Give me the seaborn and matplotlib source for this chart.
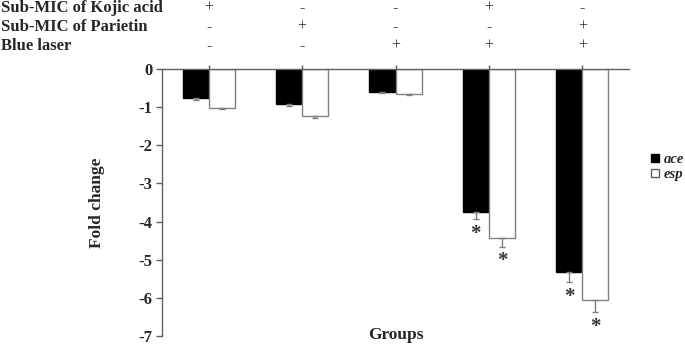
import matplotlib
matplotlib.use('Agg')
import matplotlib.pyplot as plt
import matplotlib.transforms as mtransforms
from matplotlib.lines import Line2D
import seaborn as sns
import pandas as pd
import numpy as np

groups = ['G1', 'G2', 'G3', 'G4', 'G5']
genes = ['ace', 'esp']
ace_vals = [-0.77, -0.92, -0.59, -3.74, -5.32]
esp_vals = [-1.02, -1.22, -0.66, -4.44, -6.06]
ace_err = [0.04, 0.04, 0.03, 0.20, 0.27]
esp_err = [0.04, 0.06, 0.03, 0.22, 0.31]
ace_sig = [False, False, False, True, True]
esp_sig = [False, False, False, True, True]
row_names = ['Sub-MIC of Kojic acid', 'Sub-MIC of Parietin', 'Blue laser']
row_signs = [['+', '-', '-', '+', '-'],
             ['-', '+', '-', '-', '+'],
             ['-', '-', '+', '+', '+']]

sns.set_style('white')
plt.rcParams['font.family'] = ['Liberation Serif', 'DejaVu Serif']
plt.rcParams['font.weight'] = 'bold'

df = pd.DataFrame({
    'group': groups * 2,
    'gene': ['ace'] * 5 + ['esp'] * 5,
    'value': ace_vals + esp_vals,
})

fig = plt.figure(figsize=(6.85, 3.48), dpi=100)
ax = fig.add_axes([162 / 685, 1 - 336 / 348, (629 - 162) / 685, (336 - 69) / 348])

sns.barplot(data=df, x='group', y='value', hue='gene', order=groups,
            hue_order=genes, palette=['black', 'white'], width=0.56,
            errorbar=None, legend=False, ax=ax)

edge_colors = ['black', '#808080']
errs = [ace_err, esp_err]
vals = [ace_vals, esp_vals]
sigs = [ace_sig, esp_sig]
bar_conts = list(ax.containers)
for k, cont in enumerate(bar_conts):
    xs = []
    for p in cont.patches:
        p.set_edgecolor(edge_colors[k])
        p.set_linewidth(1.0)
        xs.append(p.get_x() + p.get_width() / 2)
    e = np.array(errs[k])
    ax.errorbar(xs, vals[k], yerr=[e, np.zeros_like(e)], fmt='none',
                ecolor='#808080', elinewidth=1, capsize=2.5, capthick=1)
    for x, v, er, s in zip(xs, vals[k], errs[k], sigs[k]):
        if s:
            ax.text(x, v - er - 0.12, '*', ha='center', va='top',
                    fontsize=15, color='#333333')

ax.set_ylim(-7, 0)
ax.set_xlim(-0.5, 4.5)
ax.set_yticks(range(-7, 1))
ax.set_yticklabels([str(t) for t in range(-7, 1)], fontsize=12, fontweight='bold')
ax.xaxis.tick_top()
ax.tick_params(axis='x', direction='out', length=3, color='#606060',
               labeltop=False, labelbottom=False, top=True, bottom=False, width=1)
ax.tick_params(axis='y', direction='out', length=4, color='#606060', width=1, pad=3, left=True)
for side in ['bottom', 'right']:
    ax.spines[side].set_visible(False)
for side in ['top', 'left']:
    ax.spines[side].set_color('#606060')
    ax.spines[side].set_linewidth(1)
ax.set_xlabel('')
ax.set_ylabel('Fold change', fontsize=12.5, fontweight='bold', labelpad=24)

fig.text(396 / 685, 1 - 335 / 348, 'Groups', ha='center', va='center',
         fontsize=12.5, fontweight='bold')

trans = mtransforms.blended_transform_factory(ax.transData, fig.transFigure)
row_y = [8, 27, 46]
for name, signs, yy in zip(row_names, row_signs, row_y):
    fig.text(0.002, 1 - yy / 348, name, ha='left', va='center',
             fontsize=12, fontweight='bold')
    for i, s in enumerate(signs):
        ax.text(i, 1 - yy / 348, s, transform=trans, ha='center', va='center',
                fontsize=11.5, fontweight='normal')

handles = [Line2D([], [], marker='s', linestyle='none', markerfacecolor='black',
                  markeredgecolor='black', markersize=6),
           Line2D([], [], marker='s', linestyle='none', markerfacecolor='white',
                  markeredgecolor='#606060', markersize=6)]
fig.legend(handles, genes, loc='center left', bbox_to_anchor=(640 / 685, 1 - 167 / 348),
           frameon=False, prop={'style': 'italic', 'weight': 'bold', 'size': 10.5},
           handletextpad=0.1, labelspacing=0.15, handlelength=1.0, borderpad=0)

fig.savefig('out.png', dpi=100)
